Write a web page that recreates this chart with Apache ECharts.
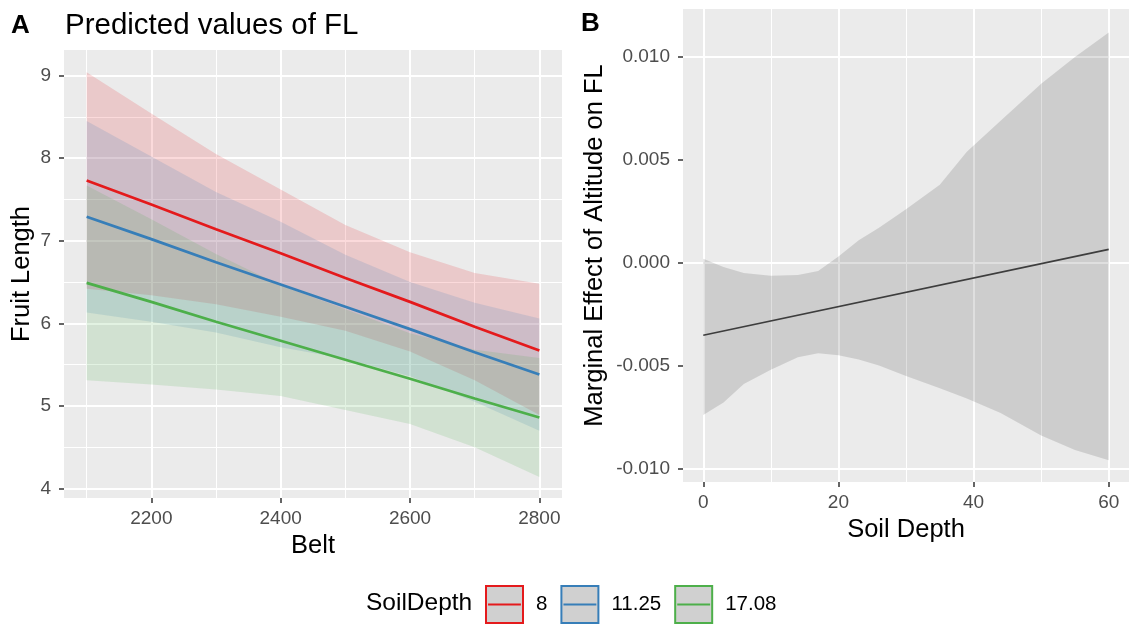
<!DOCTYPE html>
<html>
<head>
<meta charset="utf-8">
<title>Predicted values of FL</title>
<script src="https://cdn.jsdelivr.net/npm/echarts@6/dist/echarts.min.js"></script>
<style>
  html, body { margin: 0; padding: 0; background: #fff; }
  #chart { width: 1129px; height: 627px; }
</style>
</head>
<body>
<div id="chart"></div>
<script>
// panel A: predicted fruit length along the belt, one line per soil depth
const belt = [2100, 2200, 2300, 2400, 2500, 2600, 2700, 2800]
const depthNames = ['8', '11.25', '17.08']

const fit8 = [7.73, 7.44, 7.14, 6.85, 6.55, 6.26, 5.96, 5.67]
const lo8 = [6.42, 6.34, 6.23, 6.08, 5.91, 5.66, 5.31, 4.89]
const hi8 = [9.04, 8.54, 8.05, 7.62, 7.19, 6.86, 6.61, 6.48]

const fit11 = [7.29, 7.02, 6.74, 6.47, 6.20, 5.93, 5.65, 5.38]
const lo11 = [6.13, 6.02, 5.89, 5.71, 5.57, 5.36, 5.05, 4.70]
const hi11 = [8.45, 8.02, 7.59, 7.23, 6.83, 6.50, 6.25, 6.06]

const fit17 = [6.49, 6.26, 6.02, 5.79, 5.56, 5.33, 5.09, 4.86]
const lo17 = [5.31, 5.26, 5.20, 5.12, 4.95, 4.78, 4.50, 4.14]
const hi17 = [7.67, 7.26, 6.84, 6.46, 6.17, 5.88, 5.68, 5.58]

const beltTicks = [2200, 2400, 2600, 2800]
const beltMinor = [2100, 2300, 2500, 2700]
const fruitTicks = [4, 5, 6, 7, 8, 9]
const fruitMinor = [4.5, 5.5, 6.5, 7.5, 8.5]

// panel B: marginal effect of altitude across soil depth
const soil = [0, 3, 6, 10, 14, 17, 20, 23, 26, 30, 35, 39, 44, 50, 55, 60]
const effHi = [0.0002, -0.0002, -0.0005, -0.00063, -0.0006, -0.0004, 0.0003, 0.0011,
  0.0017, 0.0026, 0.0038, 0.0054, 0.0069, 0.0087, 0.0100, 0.0112]
const effLo = [-0.0074, -0.0068, -0.0059, -0.0052, -0.0046, -0.0044, -0.0045, -0.0047,
  -0.0050, -0.0055, -0.0061, -0.0066, -0.0073, -0.0084, -0.0091, -0.0096]
const effLineX = [0, 60]
const effLineY = [-0.00352, 0.00065]

const soilTicks = [0, 20, 40, 60]
const soilMinor = [10, 30, 50]
const effectTicks = [-0.01, -0.005, 0, 0.005, 0.01]
const effectMinor = [-0.0075, -0.0025, 0.0025, 0.0075]

const FONT = 'Liberation Sans, Arial, sans-serif'
const colors = ['#E41A1C', '#377EB8', '#4DAF4A']
const bandFills = ['rgba(228,26,28,0.16)', 'rgba(55,126,184,0.16)', 'rgba(77,175,74,0.16)']

const chart = echarts.init(document.getElementById('chart'))

function ribbon(xs, lo, hi, fill) {
  return function (params, api) {
    if (params.dataIndex !== 0) return null
    const pts = []
    for (let j = 0; j < xs.length; j++) pts.push(api.coord([xs[j], hi[j]]))
    for (let j = xs.length - 1; j >= 0; j--) pts.push(api.coord([xs[j], lo[j]]))
    return { type: 'polygon', shape: { points: pts }, style: { fill: fill } }
  }
}

function gridLines(xMajor, xMinor, yMajor, yMinor) {
  const d = []
  xMinor.forEach(v => d.push({ xAxis: v, lineStyle: { width: 1 } }))
  yMinor.forEach(v => d.push({ yAxis: v, lineStyle: { width: 1 } }))
  xMajor.forEach(v => d.push({ xAxis: v, lineStyle: { width: 2 } }))
  yMajor.forEach(v => d.push({ yAxis: v, lineStyle: { width: 2 } }))
  return {
    silent: true, symbol: 'none', z: 1, animation: false,
    label: { show: false },
    lineStyle: { color: '#ffffff', type: 'solid' },
    emphasis: { disabled: true },
    data: d
  }
}

function axisCommon(ticks, fmt, margin) {
  return {
    axisLine: { show: false, onZero: false },
    axisTick: { show: true, length: 5, customValues: ticks, lineStyle: { color: '#333333', width: 1.5 } },
    axisLabel: { customValues: ticks, fontSize: 19, color: '#4D4D4D', fontFamily: FONT, formatter: fmt, margin: margin },
    splitLine: { show: false },
    nameTextStyle: { fontSize: 25.5, color: '#000', fontFamily: FONT }
  }
}

const los = [lo8, lo11, lo17]
const his = [hi8, hi11, hi17]
const fits = [fit8, fit11, fit17]

const series = []
for (let i = 0; i < 3; i++) {
  series.push({
    name: 'band ' + depthNames[i],
    type: 'custom',
    xAxisIndex: 0, yAxisIndex: 0,
    silent: true, z: 2,
    renderItem: ribbon(belt, los[i], his[i], bandFills[i]),
    encode: { x: 0, y: [1, 2] },
    data: belt.map((x, j) => [x, los[i][j], his[i][j]])
  })
}
for (let i = 0; i < 3; i++) {
  series.push({
    name: depthNames[i],
    type: 'line',
    xAxisIndex: 0, yAxisIndex: 0,
    symbol: 'none', z: 3, silent: true,
    color: colors[i],
    lineStyle: { color: colors[i], width: 2.7 },
    data: belt.map((x, j) => [x, fits[i][j]]),
    markLine: i === 0 ? gridLines(beltTicks, beltMinor, fruitTicks, fruitMinor) : undefined
  })
}
series.push({
  name: 'effect band',
  type: 'custom',
  xAxisIndex: 1, yAxisIndex: 1,
  silent: true, z: 2,
  renderItem: ribbon(soil, effLo, effHi, 'rgba(0,0,0,0.125)'),
  encode: { x: 0, y: [1, 2] },
  data: soil.map((x, j) => [x, effLo[j], effHi[j]])
})
series.push({
  name: 'effect',
  type: 'line',
  xAxisIndex: 1, yAxisIndex: 1,
  symbol: 'none', z: 3, silent: true,
  lineStyle: { color: '#3D3D3D', width: 1.6 },
  data: effLineX.map((x, j) => [x, effLineY[j]]),
  markLine: gridLines(soilTicks, soilMinor, effectTicks, effectMinor)
})

const legendIcon = 'path://M0,0L36,0L36,36L0,36Z M2,18L34,18'

const option = {
  backgroundColor: '#ffffff',
  animation: false,
  textStyle: { fontFamily: FONT },
  title: [
    { text: 'A', left: 11, top: 13, padding: 0, textStyle: { fontSize: 26, fontWeight: 'bold', color: '#000', fontFamily: FONT } },
    { text: 'Predicted values of FL', left: 65, top: 11, padding: 0, textStyle: { fontSize: 29.5, fontWeight: 'normal', color: '#000', fontFamily: FONT } },
    { text: 'B', left: 581, top: 11, padding: 0, textStyle: { fontSize: 26, fontWeight: 'bold', color: '#000', fontFamily: FONT } },
    { text: 'SoilDepth', left: 366, top: 591, padding: 0, textStyle: { fontSize: 24.5, fontWeight: 'normal', color: '#000', fontFamily: FONT } }
  ],
  legend: {
    left: 485, top: 585, padding: 0,
    itemWidth: 37, itemHeight: 37, itemGap: 13,
    selectedMode: false,
    icon: legendIcon,
    itemStyle: { color: '#D0D0D0', borderWidth: 2 },
    textStyle: { fontSize: 20.5, color: '#000', fontFamily: FONT, padding: [0, 0, 0, 8] },
    data: depthNames.map((n, i) => ({ name: n, itemStyle: { color: '#D0D0D0', borderColor: colors[i], borderWidth: 2 } }))
  },
  grid: [
    { left: 64, top: 50, width: 498, height: 448, show: true, backgroundColor: '#EBEBEB', borderWidth: 0 },
    { left: 683, top: 9, width: 450, height: 473, show: true, backgroundColor: '#EBEBEB', borderWidth: 0 }
  ],
  xAxis: [
    Object.assign(axisCommon(beltTicks, v => String(v), 11), {
      type: 'value', gridIndex: 0, min: 2065, max: 2835,
      name: 'Belt', nameLocation: 'middle', nameGap: 35
    }),
    Object.assign(axisCommon(soilTicks, v => String(v), 11), {
      type: 'value', gridIndex: 1, min: -3, max: 63,
      name: 'Soil Depth', nameLocation: 'middle', nameGap: 34
    })
  ],
  yAxis: [
    Object.assign(axisCommon(fruitTicks, v => String(v), 13), {
      type: 'value', gridIndex: 0, min: 3.885, max: 9.31,
      name: 'Fruit Length', nameLocation: 'middle', nameGap: 29
    }),
    Object.assign(axisCommon(effectTicks, v => v.toFixed(3), 13), {
      type: 'value', gridIndex: 1, min: -0.01066, max: 0.01234,
      name: 'Marginal Effect of Altitude on FL', nameLocation: 'middle', nameGap: 75
    })
  ],
  series: series
}

chart.setOption(option)
window.addEventListener('resize', () => chart.resize())
</script>
</body>
</html>
